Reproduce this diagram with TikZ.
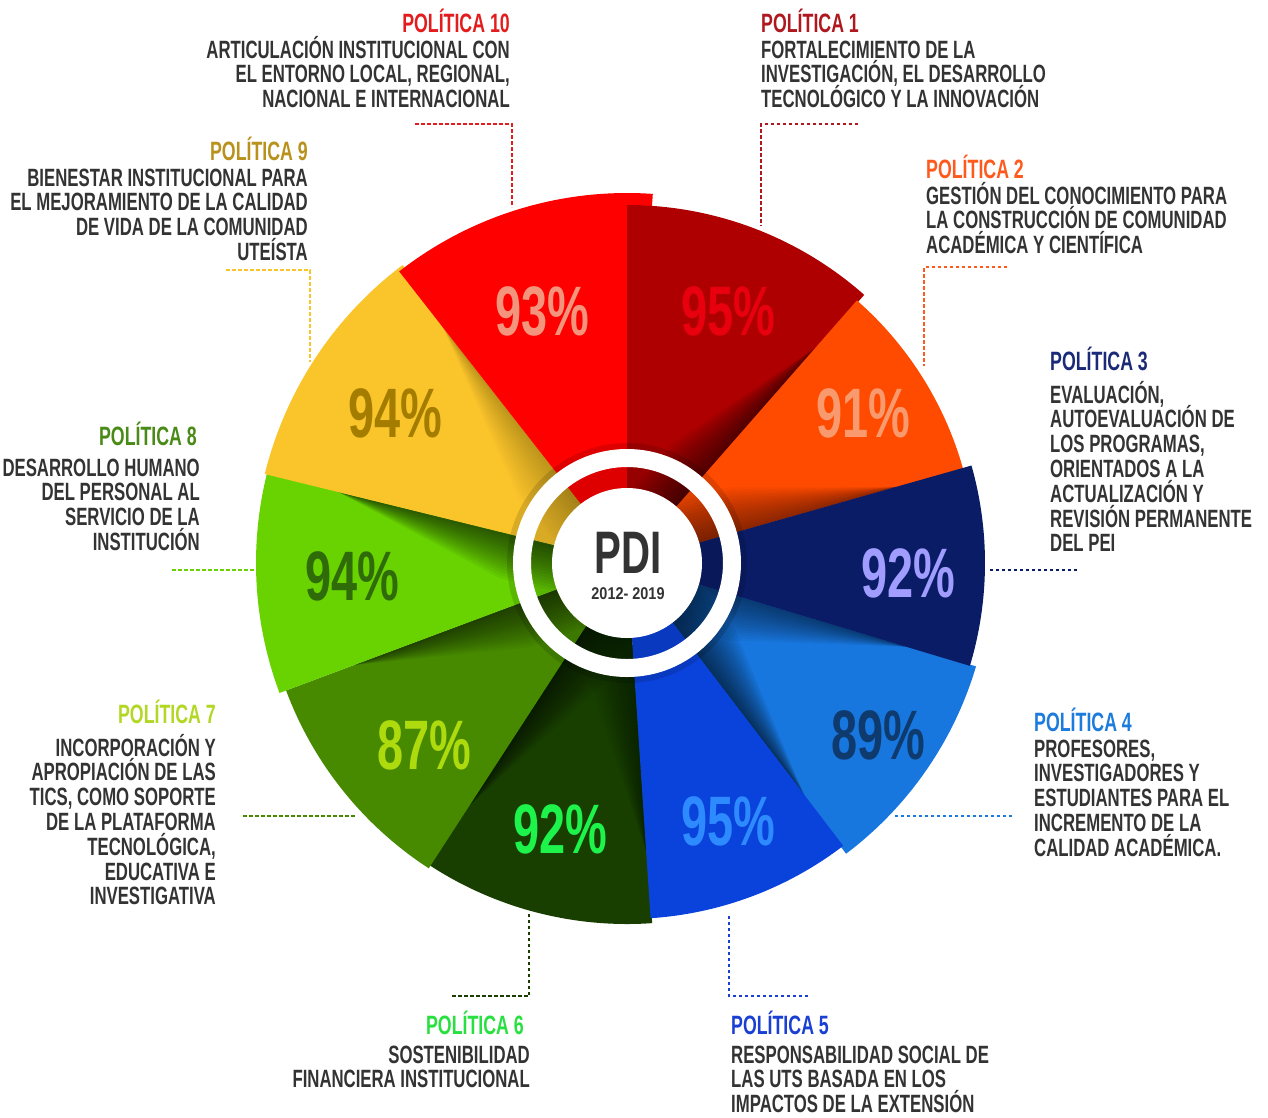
\documentclass[tikz,border=0pt]{standalone}
\usepackage{fontspec}
\newfontfamily\cond{Liberation Sans}[FakeStretch=0.67]
\newfontfamily\yearfont{Liberation Sans}[FakeStretch=0.85]
\definecolor{txt}{HTML}{333333}
\definecolor{cA}{HTML}{FF0000}   % P10
\definecolor{cB}{HTML}{AE0000}   % P1
\definecolor{cC}{HTML}{FF4B00}   % P2
\definecolor{cD}{HTML}{0B1C66}   % P3
\definecolor{cE}{HTML}{1877DF}   % P4
\definecolor{cF}{HTML}{0A42DC}   % P5
\definecolor{cG}{HTML}{183F00}   % P6
\definecolor{cH}{HTML}{478A00}   % P7
\definecolor{cI}{HTML}{68D300}   % P8
\definecolor{cJ}{HTML}{FAC52B}   % P9
\definecolor{tA}{HTML}{E31D1D}
\definecolor{tB}{HTML}{B01820}
\definecolor{tC}{HTML}{FF5A1E}
\definecolor{tD}{HTML}{1B2A78}
\definecolor{tE}{HTML}{1C7BDC}
\definecolor{tF}{HTML}{1A3FD5}
\definecolor{tG}{HTML}{28E040}
\definecolor{tH}{HTML}{B2D825}
\definecolor{tI}{HTML}{4A8A16}
\definecolor{tJ}{HTML}{B8921C}
\definecolor{pA}{HTML}{F2957C}
\definecolor{pB}{HTML}{E8000E}
\definecolor{pC}{HTML}{F99A6E}
\definecolor{pD}{HTML}{A09DFF}
\definecolor{pE}{HTML}{0E3A6E}
\definecolor{pF}{HTML}{2D8BFF}
\definecolor{pG}{HTML}{1DF34A}
\definecolor{pH}{HTML}{ADDB0E}
\definecolor{pI}{HTML}{2F6B08}
\definecolor{pJ}{HTML}{A47D00}
\newcommand\pieslice[4]{\fill[#1] (0,0) -- (#2:#4) arc[start angle=#2, end angle=#3, radius=#4] -- cycle;}
\newcommand\sliceclip[3]{\clip (0,0) -- (#1:#3) arc[start angle=#1, end angle=#2, radius=#3] -- cycle;}
% #1 edge angle, #2 perpendicular angle (towards the shaded slice), #3 radius, #4 opacity per strip
\newcommand\shadowstrip[4]{\foreach \dd in {3,6,...,45}{\fill[black, fill opacity=#4] (0,0) -- (#1:{0.8*#3}) -- ([shift={(#2:\dd)}]#1:120) -- ([shift={(#2:\dd)}]0,0) -- cycle;}}
\newcommand\blockR[4]{\foreach \ln [count=\i] in {#4}{\node[bdy, anchor=base east] (#3-\i) at (#1,{#2+(\i-1)*24.8}) {\ln};}}
\newcommand\blockL[4]{\foreach \ln [count=\i] in {#4}{\node[bdy, anchor=base west] (#3-\i) at (#1,{#2+(\i-1)*24.8}) {\ln};}}
\begin{document}
\begin{tikzpicture}[x=1pt,y=-1pt,
  ttl/.style={font=\cond\bfseries\fontsize{26.5}{26.5}\selectfont, inner sep=0},
  bdy/.style={font=\cond\bfseries\fontsize{25}{25}\selectfont, inner sep=0, text=txt},
  pct/.style={font=\cond\bfseries\fontsize{70}{70}\selectfont, inner sep=0},
  lead/.style={line width=2.6pt, dash pattern=on 3.5pt off 2.5pt}]
\useasboundingbox (0,0) rectangle (1268,1117);
\fill[white] (0,0) rectangle (1268,1117);

% ---------- pie ----------
\begin{scope}[shift={(627,563)}, yscale=-1]
  % P6 dark green
  \pieslice{cG}{236.5}{274}{361}
  \begin{scope}\sliceclip{236.5}{274}{361}
    \shadowstrip{237}{327}{361}{0.045}
    \shadowstrip{273.8}{183.8}{361}{0.025}
  \end{scope}
  % P7 medium green
  \pieslice{cH}{200.5}{237}{364}
  \begin{scope}\sliceclip{200.5}{237}{364}
    \shadowstrip{200.5}{290.5}{364}{0.045}
  \end{scope}
  % P8 light green
  \pieslice{cI}{166}{200.5}{371}
  \begin{scope}\sliceclip{166}{200.5}{371}
    \shadowstrip{166.2}{256.2}{371}{0.05}
  \end{scope}
  % P9 yellow
  \pieslice{cJ}{127}{166.2}{373}
  \begin{scope}\sliceclip{127}{166.2}{373}
    \shadowstrip{128}{218}{373}{0.015}
  \end{scope}
  % P10 red
  \pieslice{cA}{86}{128}{370}
  % P1 dark red
  \pieslice{cB}{48.5}{90}{358}
  \begin{scope}\sliceclip{48.5}{90}{358}
    \shadowstrip{48.8}{138.8}{358}{0.045}
  \end{scope}
  % P2 orange
  \pieslice{cC}{15.5}{48.8}{349}
  \begin{scope}\sliceclip{15.5}{48.8}{349}
    \shadowstrip{15.8}{105.8}{349}{0.035}
  \end{scope}
  % P4 light blue
  \pieslice{cE}{-53}{-16.5}{364}
  \begin{scope}\sliceclip{-53}{-16.5}{364}
    \shadowstrip{-52.6}{37.4}{364}{0.05}
    \shadowstrip{-16.7}{-106.7}{364}{0.04}
  \end{scope}
  % P5 blue
  \pieslice{cF}{-86.2}{-52.6}{356}
  % P3 navy
  \pieslice{cD}{-16.7}{15.8}{358}
  % centre ring
  \fill[black, fill opacity=0.13] (0,0) circle (120);
  \fill[white, even odd rule] (0,0) circle (114) (0,0) circle (96);
  \fill[white] (0,0) circle (75);
\end{scope}

\node[font=\cond\bfseries\fontsize{60}{60}\selectfont, inner sep=0, text=txt] (pdi) at (628,553) {PDI};
\node[font=\yearfont\bfseries\fontsize{17}{17}\selectfont, inner sep=0, text=txt] (years) at (628,594) {2012- 2019};

% ---------- percentages ----------
\node[pct, text=pA] (v10) at (542,311) {93\%};
\node[pct, text=pB] (v1) at (728,311) {95\%};
\node[pct, text=pC] (v2) at (863,413) {91\%};
\node[pct, text=pD] (v3) at (908,573) {92\%};
\node[pct, text=pE] (v4) at (878,735) {89\%};
\node[pct, text=pF] (v5) at (728,821) {95\%};
\node[pct, text=pG] (v6) at (560,829) {92\%};
\node[pct, text=pH] (v7) at (424,745) {87\%};
\node[pct, text=pI] (v8) at (352,576) {94\%};
\node[pct, text=pJ] (v9) at (395,413) {94\%};

% ---------- texts ----------
\node[ttl, text=tA, anchor=base east] (t10) at (510,32) {POLÍTICA 10};
\blockR{510}{58}{b10}{{ARTICULACIÓN INSTITUCIONAL CON},{EL ENTORNO LOCAL, REGIONAL,},{NACIONAL E INTERNACIONAL}}
\node[ttl, text=tB, anchor=base west] (t1) at (761,32) {POLÍTICA 1};
\blockL{761}{58}{b1}{{FORTALECIMIENTO DE LA},{INVESTIGACIÓN, EL DESARROLLO},{TECNOLÓGICO Y LA INNOVACIÓN}}
\node[ttl, text=tC, anchor=base west] (t2) at (926,178) {POLÍTICA 2};
\blockL{926}{204}{b2}{{GESTIÓN DEL CONOCIMIENTO PARA},{LA CONSTRUCCIÓN DE COMUNIDAD},{ACADÉMICA Y CIENTÍFICA}}
\node[ttl, text=tD, anchor=base west] (t3) at (1050,370) {POLÍTICA 3};
\blockL{1050}{403}{b3}{{EVALUACIÓN,},{AUTOEVALUACIÓN DE},{LOS PROGRAMAS,},{ORIENTADOS A LA},{ACTUALIZACIÓN Y},{REVISIÓN PERMANENTE},{DEL PEI}}
\node[ttl, text=tE, anchor=base west] (t4) at (1034,731) {POLÍTICA 4};
\blockL{1034}{757}{b4}{{PROFESORES,},{INVESTIGADORES Y},{ESTUDIANTES PARA EL},{INCREMENTO DE LA},{CALIDAD ACADÉMICA.}}
\node[ttl, text=tF, anchor=base west] (t5) at (731,1034) {POLÍTICA 5};
\blockL{731}{1063}{b5}{{RESPONSABILIDAD SOCIAL DE},{LAS UTS BASADA EN LOS},{IMPACTOS DE LA EXTENSIÓN}}
\node[ttl, text=tG, anchor=base east] (t6) at (524,1034) {POLÍTICA 6};
\blockR{530}{1063}{b6}{{SOSTENIBILIDAD},{FINANCIERA INSTITUCIONAL}}
\node[ttl, text=tH, anchor=base east] (t7) at (216,723) {POLÍTICA 7};
\blockR{216}{756}{b7}{{INCORPORACIÓN Y},{APROPIACIÓN DE LAS},{TICS, COMO SOPORTE},{DE LA PLATAFORMA},{TECNOLÓGICA,},{EDUCATIVA E},{INVESTIGATIVA}}
\node[ttl, text=tI, anchor=base east] (t8) at (197,445) {POLÍTICA 8};
\blockR{200}{476}{b8}{{DESARROLLO HUMANO},{DEL PERSONAL AL},{SERVICIO DE LA},{INSTITUCIÓN}}
\node[ttl, text=tJ, anchor=base east] (t9) at (308,160) {POLÍTICA 9};
\blockR{308}{186}{b9}{{BIENESTAR INSTITUCIONAL PARA},{EL MEJORAMIENTO DE LA CALIDAD},{DE VIDA DE LA COMUNIDAD},{UTEÍSTA}}

% ---------- connectors ----------
\coordinate (a10) at (415,124); \coordinate (k10) at (512,124); \coordinate (e10) at (512,207);
\coordinate (a1) at (858,124);  \coordinate (k1) at (761,124);  \coordinate (e1) at (761,226);
\coordinate (a2) at (1007,267); \coordinate (k2) at (924,267);  \coordinate (e2) at (924,366);
\coordinate (a3) at (1077,570); \coordinate (e3) at (990,570);
\coordinate (a4) at (1012,816); \coordinate (e4) at (895,816);
\coordinate (a5) at (808,996);  \coordinate (k5) at (729,996);  \coordinate (e5) at (729,916);
\coordinate (a6) at (452,996);  \coordinate (k6) at (529,996);  \coordinate (e6) at (529,914);
\coordinate (a7) at (243,816);  \coordinate (e7) at (355,816);
\coordinate (a8) at (172,570);  \coordinate (e8) at (258,570);
\coordinate (a9) at (226,270);  \coordinate (k9) at (310,270);  \coordinate (e9) at (310,362);
\draw[lead, draw=tA] (a10) -- (k10) -- (e10);
\draw[lead, draw=tB] (a1) -- (k1) -- (e1);
\draw[lead, draw=tC] (a2) -- (k2) -- (e2);
\draw[lead, draw=cD] (a3) -- (e3);
\draw[lead, draw=tE] (a4) -- (e4);
\draw[lead, draw=tF] (a5) -- (k5) -- (e5);
\draw[lead, draw=cG] (a6) -- (k6) -- (e6);
\draw[lead, draw=cH] (a7) -- (e7);
\draw[lead, draw=cI] (a8) -- (e8);
\draw[lead, draw=cJ] (a9) -- (k9) -- (e9);
\end{tikzpicture}
\end{document}
